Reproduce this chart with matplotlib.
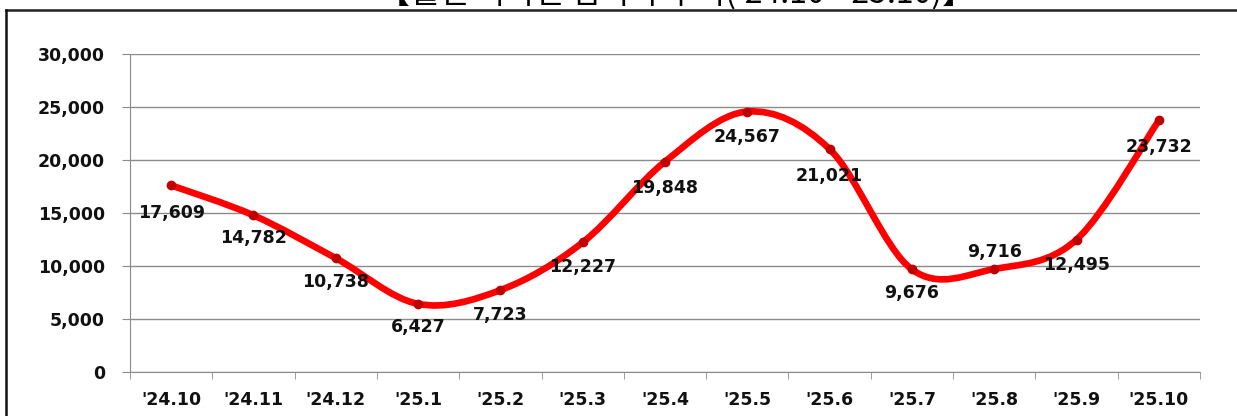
#!/usr/bin/env python3

import matplotlib
matplotlib.use("Agg")
import matplotlib.pyplot as plt
from matplotlib.path import Path
from matplotlib.patches import PathPatch
from matplotlib.lines import Line2D
from matplotlib.ticker import FuncFormatter, MultipleLocator, FixedLocator
import numpy as np

title_text = "【월별 외국인 입국자 추이('24.10~'25.10)】"
months = ["'24.10", "'24.11", "'24.12", "'25.1", "'25.2", "'25.3", "'25.4",
          "'25.5", "'25.6", "'25.7", "'25.8", "'25.9", "'25.10"]
counts = [17609, 14782, 10738, 6427, 7723, 12227, 19848,
          24567, 21021, 9676, 9716, 12495, 23732]
# label offsets in points (negative = below the point)
label_dy = [-20, -16, -17, -17, -18, -18, -19, -18, -19, -17, 12, -18, -19]

W, H = 1237, 416
fig = plt.figure(figsize=(W / 100, H / 100), dpi=100)
ax = fig.add_axes([130 / W, 1 - 372 / H, 1070 / W, 318 / H])

x = np.arange(len(counts))
y = np.array(counts, dtype=float)


def smooth_path(xs, ys):
    """Excel-like smoothed line as cubic bezier segments"""
    verts = [(xs[0], ys[0])]
    codes = [Path.MOVETO]
    n = len(xs)
    for i in range(n - 1):
        p0 = np.array([xs[max(i - 1, 0)], ys[max(i - 1, 0)]])
        p1 = np.array([xs[i], ys[i]])
        p2 = np.array([xs[i + 1], ys[i + 1]])
        p3 = np.array([xs[min(i + 2, n - 1)], ys[min(i + 2, n - 1)]])
        c1 = p1 + (p2 - p0) / 6
        c2 = p2 - (p3 - p1) / 6
        verts += [tuple(c1), tuple(c2), tuple(p2)]
        codes += [Path.CURVE4] * 3
    return Path(verts, codes)


ax.add_patch(PathPatch(smooth_path(x, y), facecolor="none", edgecolor="#FF0000",
                       lw=4.8, capstyle="round", joinstyle="round", zorder=3))
ax.plot(x, y, ls="none", marker="o", ms=6, color="#C00000", zorder=4)

for xi, yi, dy in zip(x, counts, label_dy):
    ax.annotate(f"{yi:,}", (xi, yi), xytext=(0, dy), textcoords="offset points",
                ha="center", va="center", fontsize=12.5, fontweight="bold",
                color="#111111", zorder=5)

ax.set_xlim(-0.5, len(counts) - 0.5)
ax.set_ylim(0, 30000)
ax.yaxis.set_major_locator(MultipleLocator(5000))
ax.yaxis.set_major_formatter(FuncFormatter(lambda v, p: f"{int(v):,}"))
ax.xaxis.set_major_locator(FixedLocator(x))
ax.set_xticklabels(months)
ax.xaxis.set_minor_locator(FixedLocator(np.arange(-0.5, len(counts), 1.0)))

ax.grid(axis="y", color="#8C8C8C", lw=1.0)
ax.set_axisbelow(True)
for side in ["top", "right"]:
    ax.spines[side].set_visible(False)
ax.spines["left"].set_color("#8C8C8C")
ax.spines["bottom"].set_color("#8C8C8C")
ax.tick_params(axis="y", length=6, color="#8C8C8C", labelsize=12.5, pad=12)
ax.tick_params(axis="x", which="major", length=0, labelsize=12.5, pad=14)
ax.tick_params(axis="x", which="minor", length=5, color="#8C8C8C")
for lab in ax.get_xticklabels() + ax.get_yticklabels():
    lab.set_fontweight("bold")
    lab.set_color("#111111")

# outer frame and clipped title (the reference shows only its lower edge)
fig.add_artist(Line2D([6 / W, 1.02], [1 - 10 / H, 1 - 10 / H], color="#222222", lw=1.8))
fig.add_artist(Line2D([6 / W, 6 / W], [-0.02, 1 - 10 / H], color="#111111", lw=1.8))
fig.text(676 / W, 1 - 4 / H, title_text, ha="center", va="baseline",
         fontsize=23, family=["Noto Sans CJK KR", "DejaVu Sans"], color="black")

fig.savefig("out.png", dpi=100)
